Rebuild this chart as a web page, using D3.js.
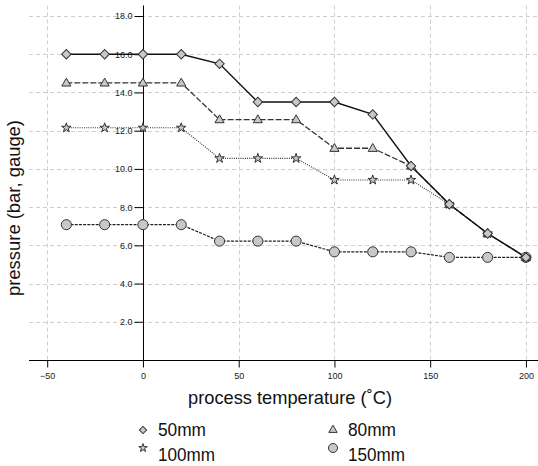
<!DOCTYPE html>
<html><head><meta charset="utf-8">
<script src="https://cdn.jsdelivr.net/npm/d3@7"></script>
<style>
html,body{margin:0;padding:0;background:#fff;}
svg{display:block;}
text{font-family:"Liberation Sans Narrow","Arial Narrow","Liberation Sans",Arial,sans-serif;}
</style></head>
<body>
<svg id="chart" width="538" height="466"></svg>
<script>
const temps = [-40, -20, 0, 20, 40, 60, 80, 100, 120, 140, 160, 180, 200];
const p50  = [16, 16, 16, 16, 15.5, 13.5, 13.5, 13.5, 12.85, 10.15, 8.15, 6.62, 5.37];
const p80  = [14.5, 14.5, 14.5, 14.5, 12.58, 12.58, 12.58, 11.08, 11.08, 10.15, 8.15, 6.62, 5.37];
const p100 = [12.15, 12.15, 12.15, 12.15, 10.55, 10.55, 10.55, 9.42, 9.42, 9.42, 8.15, 6.62, 5.37];
const p150 = [7.08, 7.08, 7.08, 7.08, 6.22, 6.22, 6.22, 5.66, 5.66, 5.66, 5.37, 5.37, 5.37];
const seriesNames = ["50mm", "80mm", "100mm", "150mm"];
const xTicks = [-50, 0, 50, 100, 150, 200];
const yTicks = [2, 4, 6, 8, 10, 12, 14, 16, 18];

const svg = d3.select("#chart");
const x = d3.scaleLinear().domain([-59.5, 206.3]).range([29, 538]);
const y = d3.scaleLinear().domain([0, 18.55]).range([360, 5.5]);

// grid
const grid = svg.append("g").attr("stroke", "#cfcfcf").attr("stroke-width", 1).attr("stroke-dasharray", "4,3");
grid.selectAll(".hg").data(yTicks).join("line")
  .attr("x1", 29).attr("x2", 538).attr("y1", d => Math.round(y(d)) + 0.5).attr("y2", d => Math.round(y(d)) + 0.5);
grid.selectAll(".vg").data(xTicks).join("line")
  .attr("y1", 5.5).attr("y2", 360).attr("x1", d => Math.round(x(d)) + 0.5).attr("x2", d => Math.round(x(d)) + 0.5);

// x axis
const xAxis = svg.append("g").attr("transform", "translate(0,360.5)")
  .call(d3.axisBottom(x).tickValues(xTicks).tickSize(7).tickSizeOuter(0).tickFormat(d3.format("d")));
xAxis.select(".domain").attr("d", "M29,0H538");
xAxis.selectAll("text").attr("font-size", 9).attr("fill", "#222").attr("dy", "0.9em");

// y axis at x=0
const yAxis = svg.append("g").attr("transform", `translate(${Math.round(x(0)) + 0.5},0)`)
  .call(d3.axisLeft(y).tickValues(yTicks).tickSize(9).tickSizeOuter(0).tickFormat(d3.format(".1f")));
yAxis.select(".domain").attr("d", `M0,${y(18.55)}V360`);
yAxis.selectAll("text").attr("font-size", 9).attr("fill", "#222").attr("x", -11);

// series
const allSeries = [p50, p80, p100, p150];
const dashes = [null, "6,2", "1,1.2", "3,1.2"];
const widths = [1.4, 1.3, 1.1, 1.2];
const colors = ["#111", "#333", "#333", "#222"];
const syms = [d3.symbolSquare, d3.symbolTriangle, d3.symbolStar, d3.symbolCircle];
const sizes = [44, 36, 28, 80];
const line = d3.line().x(d => x(d[0])).y(d => y(d[1]));

const order = [3, 2, 1, 0];
order.forEach(i => {
  const pts = temps.map((t, j) => [t, allSeries[i][j]]);
  svg.append("path").attr("d", line(pts)).attr("fill", "none")
    .attr("stroke", colors[i]).attr("stroke-width", widths[i])
    .attr("stroke-dasharray", dashes[i]);
});
order.forEach(i => {
  const pts = temps.map((t, j) => [t, allSeries[i][j]]);
  const sym = d3.symbol().type(syms[i]).size(sizes[i]);
  svg.append("g").selectAll("path").data(pts).join("path")
    .attr("d", sym())
    .attr("transform", d => `translate(${x(d[0])},${y(d[1]) + (i === 1 ? 0.5 : 0)})` + (i === 0 ? " rotate(45)" : ""))
    .attr("fill", "#c8c8c8").attr("stroke", "#333").attr("stroke-width", 1);
});

// titles
svg.append("text").attr("x", 188).attr("y", 404)
  .attr("font-size", 19).attr("fill", "#111")
  .attr("textLength", 204).attr("lengthAdjust", "spacingAndGlyphs")
  .text("process temperature (˚C)");
svg.append("text").attr("transform", "translate(20,296) rotate(-90)")
  .attr("font-size", 19).attr("fill", "#111")
  .attr("textLength", 176).attr("lengthAdjust", "spacingAndGlyphs")
  .text("pressure (bar, gauge)");

// legend
const legPos = [[143, 430, 158, 436], [333, 430, 348, 436], [143, 448, 158, 461], [333, 448, 348, 461]];
const legLen = [48, 48, 57, 57];
const legSizes = [26, 30, 22, 64];
seriesNames.forEach((name, i) => {
  const [sx, sy, tx, ty] = legPos[i];
  svg.append("path").attr("d", d3.symbol().type(syms[i]).size(legSizes[i])())
    .attr("transform", `translate(${sx},${sy})` + (i === 0 ? " rotate(45)" : ""))
    .attr("fill", "#c8c8c8").attr("stroke", "#333").attr("stroke-width", 1);
  svg.append("text").attr("x", tx).attr("y", ty).attr("font-size", 19).attr("fill", "#111")
    .attr("textLength", legLen[i]).attr("lengthAdjust", "spacingAndGlyphs").text(name);
});
</script>
</body></html>
